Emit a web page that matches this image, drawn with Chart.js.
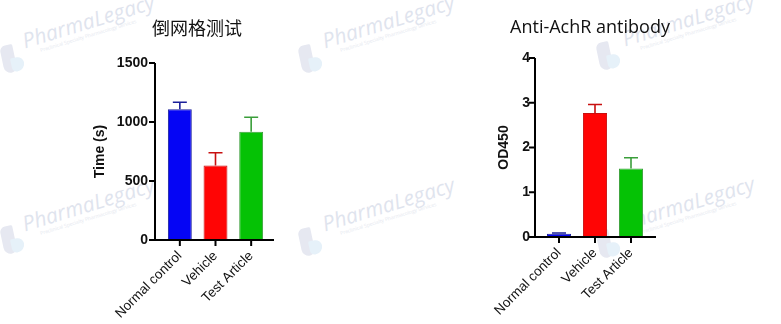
<!DOCTYPE html>
<html>
<head>
<meta charset="utf-8">
<script src="https://cdn.jsdelivr.net/npm/chart.js@4.4.1/dist/chart.umd.min.js"></script>
<style>
  html, body { margin: 0; padding: 0; background: #fff; }
  body { width: 781px; height: 324px; position: relative; overflow: hidden; }
  .mark { position: absolute; transform-origin: 0 100%; transform: rotate(-17deg); white-space: nowrap;
          font-family: "Open Sans", sans-serif; font-style: italic; color: #dfe4ee; font-size: 21px; line-height: 21px; }
  .mark small { display: block; font-size: 5px; line-height: 7px; color: #e6e9f0; font-style: normal; margin-left: 14px; }
  .logo { position: absolute; width: 13px; height: 28px; border-radius: 7px 2px 7px 9px; background: #e6e8f1;
          transform: rotate(-12deg); }
  .logo:after { content: ""; position: absolute; left: 8px; top: 14px; width: 13px; height: 14px;
                border-radius: 2px 8px 10px 6px; background: #e6f1f9; }
  canvas { position: absolute; top: 0; }
</style>
</head>
<body>
<div class="logo" style="left:2px;top:45px"></div>
<div class="mark" style="left:28px;top:30px">PharmaLegacy<small>Preclinical Specialty Pharmacology Services</small></div>
<div class="logo" style="left:300px;top:45px"></div>
<div class="mark" style="left:328px;top:30px">PharmaLegacy<small>Preclinical Specialty Pharmacology Services</small></div>
<div class="logo" style="left:598px;top:42px"></div>
<div class="mark" style="left:628px;top:28px">PharmaLegacy<small>Preclinical Specialty Pharmacology Services</small></div>
<div class="logo" style="left:2px;top:226px"></div>
<div class="mark" style="left:28px;top:213px">PharmaLegacy<small>Preclinical Specialty Pharmacology Services</small></div>
<div class="logo" style="left:300px;top:228px"></div>
<div class="mark" style="left:328px;top:213px">PharmaLegacy<small>Preclinical Specialty Pharmacology Services</small></div>
<div class="logo" style="left:598px;top:230px"></div>
<div class="mark" style="left:628px;top:212px">PharmaLegacy<small>Preclinical Specialty Pharmacology Services</small></div>

<canvas id="gridTest" style="left:0" width="390" height="324"></canvas>
<canvas id="achr" style="left:390px" width="391" height="324"></canvas>

<script>
// groups
const groups = ['Normal control', 'Vehicle', 'Test Article'];

// 倒网格测试 - time (s), mean and upper SEM
const timeMean = [1108, 632, 918];
const timeErr = [60, 108, 122];
const timeTicks = [0, 500, 1000, 1500];

// Anti-AchR antibody - OD450
const odMean = [0.07, 2.77, 1.53];
const odErr = [0.02, 0.19, 0.24];
const odTicks = [0, 1, 2, 3, 4];

const fills = ['#0505f5', '#ff0505', '#05c205'];
const edges = ['#1a1f9a', '#c81010', '#3a9e3a'];

const sans = 'Liberation Sans, Arial, sans-serif';

// GraphPad style: only the upper whisker, with a cap
const errorBars = {
  id: 'errorBars',
  afterDatasetsDraw(chart) {
    const ctx = chart.ctx;
    const y = chart.scales.y;
    const ds = chart.data.datasets[0];
    chart.getDatasetMeta(0).data.forEach((bar, i) => {
      const top = y.getPixelForValue(ds.data[i] + ds.err[i]);
      ctx.save();
      ctx.strokeStyle = edges[i];
      ctx.lineWidth = 1.6;
      ctx.beginPath();
      ctx.moveTo(bar.x, bar.y);
      ctx.lineTo(bar.x, top);
      ctx.moveTo(bar.x - 7, top);
      ctx.lineTo(bar.x + 7, top);
      ctx.stroke();
      ctx.restore();
    });
  }
};

// axis lines and tick marks, y axis sits a little left of the first bar
const axes = {
  id: 'axes',
  afterDraw(chart) {
    const o = chart.options.plugins.axes;
    const ctx = chart.ctx;
    const area = chart.chartArea;
    const x = chart.scales.x, y = chart.scales.y;
    const ax = area.left - o.gap;
    ctx.save();
    ctx.strokeStyle = '#000';
    ctx.lineWidth = 2;
    ctx.beginPath();
    ctx.moveTo(ax, area.top);
    ctx.lineTo(ax, area.bottom);
    ctx.moveTo(ax - 1, area.bottom);
    ctx.lineTo(area.right + o.ext, area.bottom);
    y.ticks.forEach(t => {
      const py = y.getPixelForValue(t.value);
      ctx.moveTo(ax - 6, py);
      ctx.lineTo(ax, py);
    });
    x.ticks.forEach((t, i) => {
      const px = x.getPixelForTick(i);
      ctx.moveTo(px, area.bottom);
      ctx.lineTo(px, area.bottom + 6);
    });
    ctx.stroke();
    // chart heading
    ctx.fillStyle = '#111';
    ctx.font = o.titleFont;
    ctx.textAlign = 'center';
    ctx.textBaseline = 'middle';
    ctx.fillText(o.title, o.titleX, 28);
    ctx.restore();
  }
};

function makeChart(id, data, err, ticks, yTitle, cfg) {
  return new Chart(document.getElementById(id), {
    type: 'bar',
    data: {
      labels: groups,
      datasets: [{
        data: data,
        err: err,
        backgroundColor: fills,
        borderColor: edges,
        borderWidth: 1,
        borderSkipped: 'bottom',
        barPercentage: 0.67,
        categoryPercentage: 1
      }]
    },
    options: {
      responsive: false,
      animation: false,
      layout: { padding: cfg.padding },
      plugins: {
        legend: { display: false },
        tooltip: { enabled: false },
        axes: cfg.axes
      },
      scales: {
        x: {
          offset: true,
          grid: { display: false, drawTicks: false },
          border: { display: false },
          ticks: {
            color: '#111',
            font: { family: sans, size: 13.5 },
            minRotation: 45, maxRotation: 45, padding: 8
          },
          afterFit(s) { s.height = cfg.xHeight; }
        },
        y: {
          min: ticks[0],
          max: ticks[ticks.length - 1],
          afterBuildTicks(s) { s.ticks = ticks.map(v => ({ value: v })); },
          grid: { display: false, drawTicks: false },
          border: { display: false },
          ticks: {
            color: '#111', padding: cfg.tickPad,
            font: { family: sans, size: 14, weight: 'bold' },
            callback: v => String(v)
          },
          title: {
            display: true, text: yTitle, color: '#111', padding: 0,
            font: { family: sans, size: 14, weight: 'bold' }
          },
          afterFit(s) { s.width = cfg.yWidth; }
        }
      }
    },
    plugins: [errorBars, axes]
  });
}

makeChart('gridTest', timeMean, timeErr, timeTicks, 'Time (s)', {
  padding: { left: 92, right: 121, top: 63, bottom: 0 },
  yWidth: 70, xHeight: 84, tickPad: 14,
  axes: { gap: 7, ext: 5, title: '倒网格测试', titleX: 197, titleFont: '18px "Noto Sans CJK SC", sans-serif' }
});

makeChart('achr', odMean, odErr, odTicks, 'OD450', {
  padding: { left: 106, right: 132, top: 58, bottom: 0 },
  yWidth: 45, xHeight: 87, tickPad: 11,
  axes: { gap: 6, ext: 7, title: 'Anti-AchR antibody', titleX: 200, titleFont: '18px "Open Sans", sans-serif' }
});
</script>
</body>
</html>
